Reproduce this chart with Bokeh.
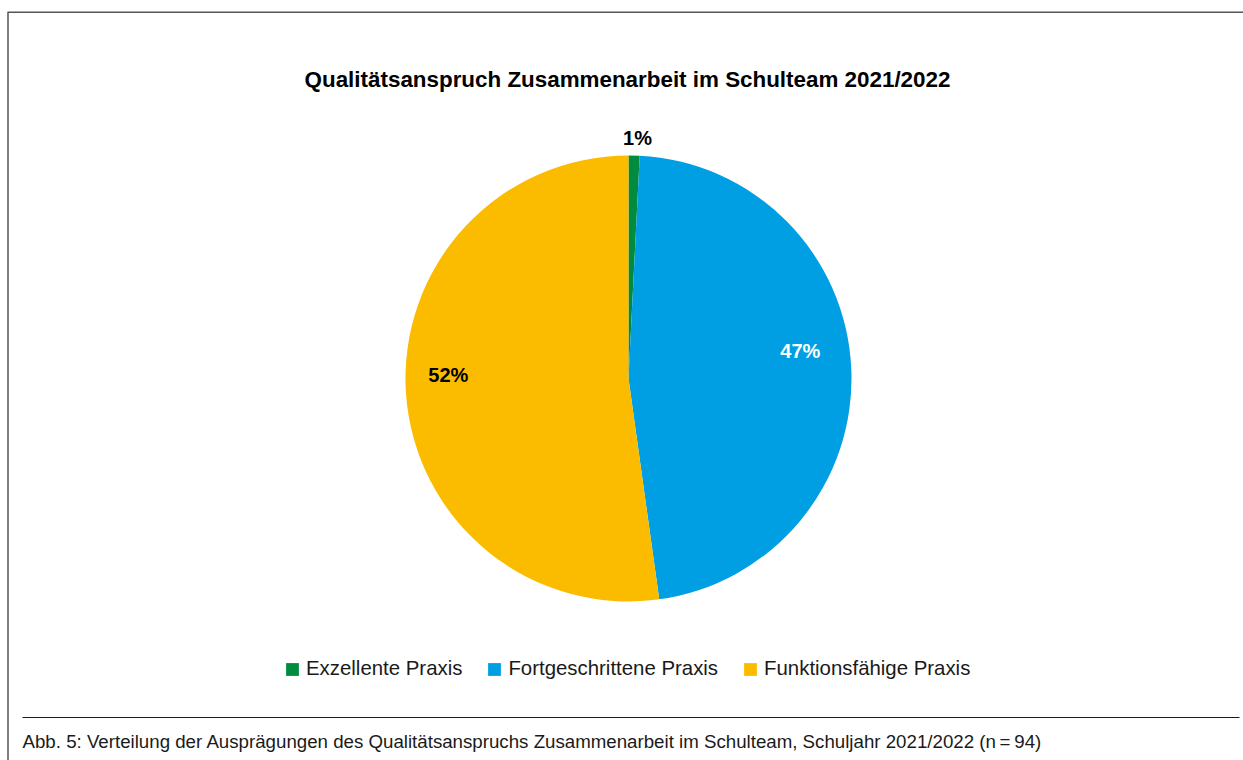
import math
from bokeh.plotting import figure
from bokeh.models import ColumnDataSource, Legend, LegendItem, Range1d
from bokeh.core.properties import value
from bokeh.embed import file_html
from bokeh.resources import INLINE

# ---- data ----
categories = ["Exzellente Praxis", "Fortgeschrittene Praxis", "Funktionsfähige Praxis"]
shares = [0.8, 47.0, 52.2]
labels = ["1%", "47%", "52%"]
colors = ["#008b3f", "#009fe3", "#fbbc00"]
label_colors = ["#000000", "#ffffff", "#000000"]
title_text = "Qualitätsanspruch Zusammenarbeit im Schulteam 2021/2022"
caption_text = ("Abb. 5: Verteilung der Ausprägungen des Qualitätsanspruchs Zusammenarbeit "
                "im Schulteam, Schuljahr 2021/2022 (n\u2009=\u200994)")

# ---- layout ----
W, H = 1243, 760
CX, CY, R = 628, 382, 223
label_radius = [1.08, 0.78, 0.81]
label_nudge_x = [3, -2, 0]
label_nudge_y = [0, 20, 16]
FONT = "Liberation Sans"

p = figure(width=W, height=H, x_range=Range1d(0, W), y_range=Range1d(0, H),
           x_axis_type=None, y_axis_type=None, toolbar_location=None,
           output_backend="svg", min_border=0, outline_line_color=None,
           background_fill_color="white", border_fill_color="white")
p.xgrid.visible = False
p.ygrid.visible = False

total = sum(shares)
starts, ends, lx, ly = [], [], [], []
cum = 0.0
for i, s in enumerate(shares):
    a0 = cum / total * 2 * math.pi
    cum += s
    a1 = cum / total * 2 * math.pi
    starts.append(math.pi / 2 - a1)
    ends.append(math.pi / 2 - a0)
    mid = (a0 + a1) / 2
    r = label_radius[i] * R
    lx.append(CX + r * math.sin(mid) + label_nudge_x[i])
    ly.append(CY + r * math.cos(mid) + label_nudge_y[i])

src = ColumnDataSource(dict(cat=categories, start=starts, end=ends, color=colors))
wr = p.wedge(x=CX, y=CY, radius=R, start_angle="start", end_angle="end",
             fill_color="color", line_color=None, source=src)

lsrc = ColumnDataSource(dict(x=lx, y=ly, text=labels, color=label_colors))
p.text(x="x", y="y", text="text", text_color="color", source=lsrc,
       text_font=value(FONT), text_font_style="bold", text_font_size="20px",
       text_align="center", text_baseline="middle")

# title
p.text(x=[627], y=[681], text=[title_text], text_font=value(FONT),
       text_font_style="bold", text_font_size="22.4px", text_color="#000000",
       text_align="center", text_baseline="middle")

# frame lines
p.line([7.5, 7.5], [0, 748.3], line_color="#555555", line_width=1.5)
p.line([7, W], [748.3, 748.3], line_color="#555555", line_width=1.5)
p.line([22, 1239], [43, 43], line_color="#1a1a1a", line_width=1.2)

# caption
p.text(x=[22], y=[19], text=[caption_text], text_font=value(FONT),
       text_font_size="18.7px", text_color="#1a1a1a",
       text_align="left", text_baseline="alphabetic")

items = [LegendItem(label=c, renderers=[wr], index=i) for i, c in enumerate(categories)]
legend = Legend(items=items, orientation="horizontal", location=(284, 80),
                glyph_width=16, glyph_height=16, label_standoff=6, spacing=24,
                padding=0, margin=0, border_line_color=None, background_fill_alpha=0,
                label_text_font=FONT, label_text_font_size="20.4px",
                label_text_color="#1a1a1a", label_height=20)
p.add_layout(legend, "center")

open("out.html", "w").write(file_html(p, INLINE))
